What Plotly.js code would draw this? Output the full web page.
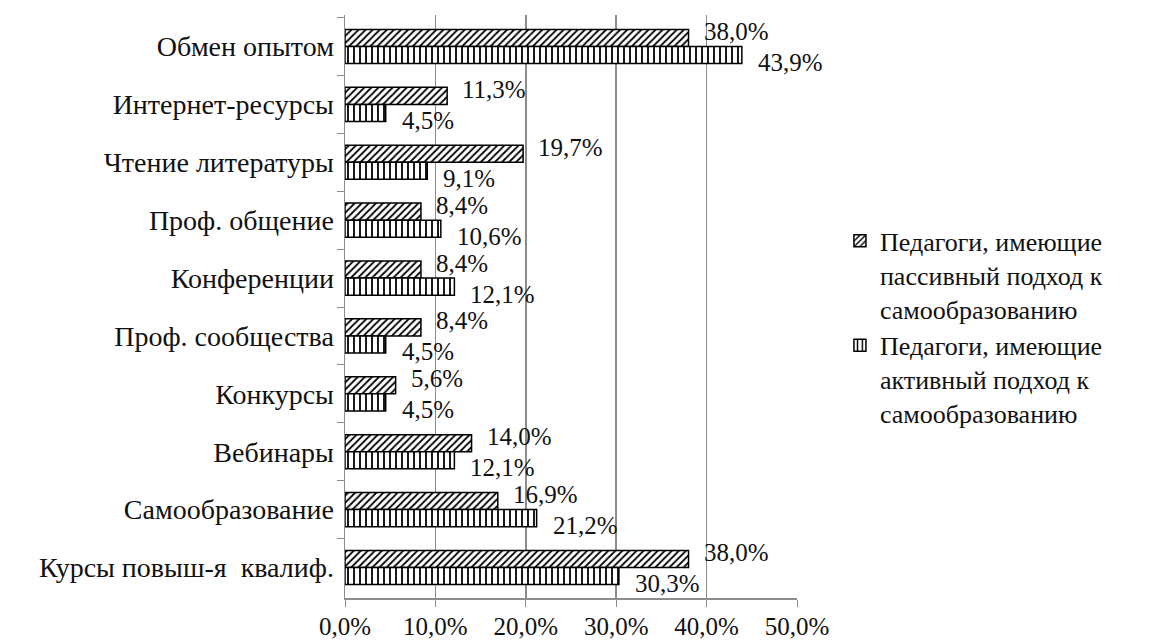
<!DOCTYPE html>
<html>
<head>
<meta charset="utf-8">
<script src="https://cdn.plot.ly/plotly-3.0.1.min.js"></script>
<style>html,body{margin:0;padding:0;background:#fff;}#chart{width:1152px;height:643px;}</style>
</head>
<body>
<div id="chart"></div>
<script>
const categories = ["Обмен опытом","Интернет-ресурсы","Чтение литературы","Проф. общение","Конференции","Проф. сообщества","Конкурсы","Вебинары","Самообразование","Курсы повыш-я  квалиф."];
const passiveName = "Педагоги, имеющие<br>пассивный подход к<br>самообразованию";
const activeName = "Педагоги, имеющие<br>активный подход к<br>самообразованию";
const passive = [38.0, 11.3, 19.7, 8.4, 8.4, 8.4, 5.6, 14.0, 16.9, 38.0];
const active = [43.9, 4.5, 9.1, 10.6, 12.1, 4.5, 4.5, 12.1, 21.2, 30.3];
const xTicks = [0, 10, 20, 30, 40, 50];

const fmt = v => v.toFixed(1).replace('.', ',') + '%';
const FONT = "Liberation Serif, Times New Roman, serif";

const traces = [
  {type:'bar', orientation:'h', name: passiveName, y: categories, x: passive,
   marker:{color:'#fff', line:{color:'#000', width:1.5}, pattern:{shape:'/', fgcolor:'#000', bgcolor:'#fff', size:5, solidity:0.35}},
   hoverinfo:'skip'},
  {type:'bar', orientation:'h', name: activeName, y: categories, x: active,
   marker:{color:'#fff', line:{color:'#000', width:1.5}, pattern:{shape:'|', fgcolor:'#000', bgcolor:'#fff', size:6, solidity:0.3}},
   hoverinfo:'skip'}
];

const annotations = [];
categories.forEach((c, i) => {
  annotations.push({x: passive[i], y: c, xref:'x', yref:'y', text: fmt(passive[i]), showarrow:false, xanchor:'left', yanchor:'middle', xshift:13, yshift:15, font:{family:FONT, size:25, color:'#111'}});
  annotations.push({x: active[i], y: c, xref:'x', yref:'y', text: fmt(active[i]), showarrow:false, xanchor:'left', yanchor:'middle', xshift:14, yshift:-16, font:{family:FONT, size:25, color:'#111'}});
});

const layout = {
  width:1152, height:643,
  margin:{l:345, r:355, t:15, b:45},
  paper_bgcolor:'#fff', plot_bgcolor:'#fff',
  font:{family:FONT, size:26, color:'#111'},
  barmode:'group', bargap:0.41, bargroupgap:0,
  showlegend:true,
  legend:{x:1.095, xanchor:'left', y:0.465, yanchor:'middle', valign:'top', font:{family:FONT, size:26, color:'#111'}, tracegroupgap:0, itemwidth:30, bgcolor:'rgba(0,0,0,0)'},
  xaxis:{range:[0,50], tickvals:xTicks, ticktext:xTicks.map(v=>fmt(v)), showgrid:true, gridcolor:'#8c8c8c', gridwidth:1.5,
         showline:true, linecolor:'#8c8c8c', linewidth:1.5, ticks:'outside', ticklen:7, tickcolor:'#8c8c8c', zeroline:false,
         tickfont:{family:FONT, size:25, color:'#111'}, ticklabelstandoff:-2, fixedrange:true},
  yaxis:{type:'category', autorange:'reversed', showline:true, linecolor:'#8c8c8c', linewidth:1.5, ticks:'outside', ticklen:7, tickcolor:'#8c8c8c',
         tickson:'boundaries', showgrid:false, tickfont:{family:FONT, size:28, color:'#111'}, ticklabelstandoff:4, fixedrange:true},
  annotations: annotations
};

Plotly.newPlot('chart', traces, layout, {staticPlot:true});
</script>
</body>
</html>
